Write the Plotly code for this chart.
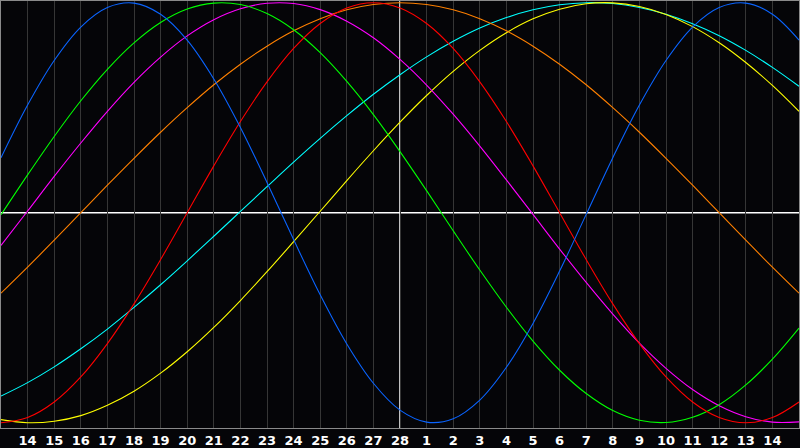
import plotly.graph_objects as go

# day index positions (0 = left edge, 30 = right edge)
day_index = list(range(31))
tick_positions = list(range(1, 30))
tick_labels = ["14", "15", "16", "17", "18", "19", "20", "21", "22", "23", "24", "25",
               "26", "27", "28", "1", "2", "3", "4", "5", "6", "7", "8", "9", "10",
               "11", "12", "13", "14"]
today_index = 15

# cycle values, one per day position
blue = [0.262, 0.513, 0.725, 0.884, 0.977, 0.998, 0.945, 0.822, 0.637, 0.406, 0.144,
        -0.128, -0.391, -0.625, -0.812, -0.940, -0.997, -0.981, -0.892, -0.736, -0.527,
        -0.278, -0.008, 0.262, 0.513, 0.725, 0.884, 0.977, 0.998, 0.945, 0.822]
green = [-0.010, 0.180, 0.363, 0.533, 0.683, 0.809, 0.906, 0.970, 0.998, 0.991, 0.948,
         0.871, 0.762, 0.625, 0.467, 0.291, 0.105, -0.086, -0.273, -0.450, -0.611,
         -0.750, -0.861, -0.942, -0.988, -0.999, -0.974, -0.914, -0.820, -0.697, -0.549]
magenta = [-0.156, 0.008, 0.173, 0.332, 0.483, 0.621, 0.741, 0.842, 0.919, 0.971, 0.997,
           0.996, 0.967, 0.912, 0.833, 0.730, 0.608, 0.469, 0.317, 0.156, -0.008,
           -0.173, -0.332, -0.483, -0.621, -0.741, -0.842, -0.919, -0.971, -0.997, -0.996]
red = [-1.000, -0.975, -0.901, -0.782, -0.623, -0.434, -0.223, 0.000, 0.223, 0.434, 0.623,
       0.782, 0.901, 0.975, 1.000, 0.975, 0.901, 0.782, 0.623, 0.434, 0.223,
       0.000, -0.223, -0.434, -0.623, -0.782, -0.901, -0.975, -1.000, -0.975, -0.901]
orange = [-0.383, -0.259, -0.131, 0.000, 0.131, 0.259, 0.383, 0.500, 0.609, 0.707, 0.793,
          0.866, 0.924, 0.966, 0.991, 1.000, 0.991, 0.966, 0.924, 0.866, 0.793,
          0.707, 0.609, 0.500, 0.383, 0.259, 0.131, 0.000, -0.131, -0.259, -0.383]
cyan = [-0.873, -0.809, -0.734, -0.648, -0.554, -0.451, -0.343, -0.229, -0.112, 0.006, 0.124,
        0.241, 0.354, 0.462, 0.564, 0.657, 0.742, 0.816, 0.879, 0.929, 0.966,
        0.990, 1.000, 0.996, 0.977, 0.945, 0.900, 0.843, 0.773, 0.692, 0.602]
yellow = [-0.985, -1.000, -0.993, -0.966, -0.917, -0.850, -0.764, -0.662, -0.546, -0.418, -0.281,
          -0.138, 0.007, 0.153, 0.295, 0.431, 0.558, 0.673, 0.773, 0.857, 0.923,
          0.969, 0.995, 0.999, 0.982, 0.944, 0.886, 0.809, 0.715, 0.606, 0.483]

series = [
    ("cyan", cyan, "#00ffff"),
    ("yellow", yellow, "#ffff00"),
    ("orange", orange, "#ff8000"),
    ("magenta", magenta, "#ff00ff"),
    ("green", green, "#00ff00"),
    ("red", red, "#ff0000"),
    ("blue", blue, "#0a64ff"),
]

fig = go.Figure()
for name, vals, col in series:
    fig.add_trace(go.Scatter(x=day_index, y=vals, mode="lines", name=name,
                             line=dict(color=col, width=1.1, shape="spline"),
                             hoverinfo="skip"))

# white reference lines: zero and today
fig.add_shape(type="line", xref="x", yref="paper", x0=today_index, x1=today_index,
              y0=0, y1=1, line=dict(color="white", width=1.5), layer="below")
fig.add_shape(type="line", xref="paper", yref="y", x0=0, x1=1, y0=0, y1=0,
              line=dict(color="white", width=1.5), layer="below")

fig.update_layout(
    width=800, height=448,
    margin=dict(l=1, r=1, t=1, b=20, autoexpand=False),
    paper_bgcolor="#050508",
    plot_bgcolor="#050508",
    showlegend=False,
    hovermode=False,
    xaxis=dict(range=[0, 30], tickmode="array", tickvals=tick_positions,
               ticktext=tick_labels, showgrid=True, gridcolor="#363636", gridwidth=1,
               zeroline=False, showline=True, mirror=True, linecolor="#8a8a8a",
               linewidth=1, ticks="", ticklen=0, automargin=False,
               tickfont=dict(family="DejaVu Sans", size=13, color="white", weight="bold")),
    yaxis=dict(range=[-1.025, 1.008], showgrid=False, zeroline=False, showticklabels=False,
               showline=True, mirror=True, linecolor="#8a8a8a", linewidth=1, ticks="",
               automargin=False),
)

fig.write_html("out.html", config={"displayModeBar": False, "staticPlot": True},
               post_script="document.body.style.margin='0';document.body.style.overflow='hidden';")
